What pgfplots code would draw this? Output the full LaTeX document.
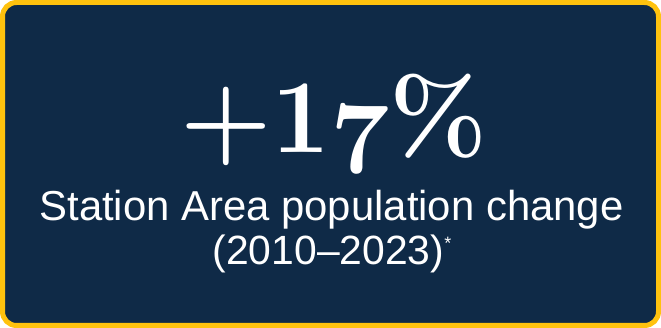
\documentclass[border=0pt]{standalone}
\usepackage{graphicx}
\usepackage{fontspec}
\usepackage{pgfplots}
\pgfplotsset{compat=1.18}
\newfontfamily\subfont{Liberation Sans}
\definecolor{cardnavy}{HTML}{0F2A47}
\definecolor{cardgold}{HTML}{FFC20E}
\begin{document}
\begin{tikzpicture}
\begin{axis}[
  hide axis, scale only axis,
  width=661bp, height=328bp,
  xmin=0, xmax=661, ymin=0, ymax=328,
  clip=false,
]
\addplot[draw=none, mark=none] coordinates {(0,0) (661,328)};
\draw[line width=5bp, draw=cardgold, fill=cardnavy, rounded corners=14bp]
  (axis cs:2.5,2.5) rectangle (axis cs:658.5,325.5);
\node[anchor=base, text=white, inner sep=0pt] at (axis cs:334,175)
  {\scalebox{5}{\fontsize{21}{21}\selectfont\bfseries\boldmath +1$\mathnormal{7}$\%}};
\node[anchor=base, text=white, inner sep=0pt] at (axis cs:331.5,107)
  {\subfont\fontsize{42}{42}\selectfont Station Area population change};
\node[anchor=base, text=white, inner sep=0pt] at (axis cs:332,63)
  {\subfont\fontsize{41}{41}\selectfont (2010–2023)\raisebox{15bp}{\fontsize{18}{18}\selectfont *}};
\end{axis}
\end{tikzpicture}
\end{document}
